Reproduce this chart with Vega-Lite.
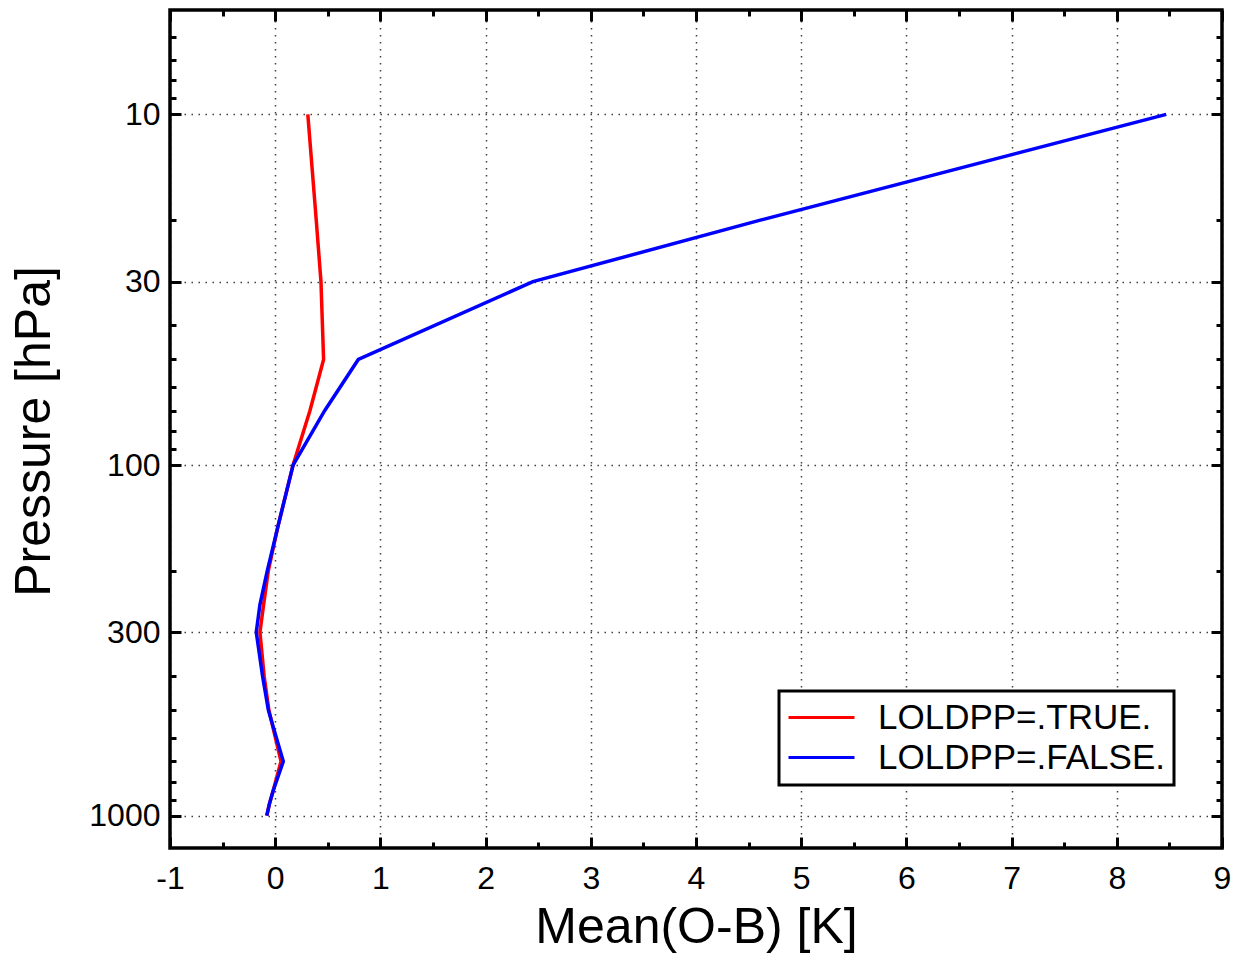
{
  "$schema": "https://vega.github.io/schema/vega-lite/v6.json",
  "width": 1052,
  "height": 838,
  "autosize": {"type": "none"},
  "padding": {"left": 170, "top": 10, "right": 16, "bottom": 105},
  "background": "white",
  "data": {
    "values": [
      {"run": "LOLDPP=.TRUE.", "p": 10, "v": 0.31},
      {"run": "LOLDPP=.TRUE.", "p": 20, "v": 0.39},
      {"run": "LOLDPP=.TRUE.", "p": 30, "v": 0.435},
      {"run": "LOLDPP=.TRUE.", "p": 50, "v": 0.46},
      {"run": "LOLDPP=.TRUE.", "p": 70, "v": 0.33},
      {"run": "LOLDPP=.TRUE.", "p": 100, "v": 0.17},
      {"run": "LOLDPP=.TRUE.", "p": 150, "v": 0.025},
      {"run": "LOLDPP=.TRUE.", "p": 200, "v": -0.065},
      {"run": "LOLDPP=.TRUE.", "p": 250, "v": -0.11},
      {"run": "LOLDPP=.TRUE.", "p": 300, "v": -0.145},
      {"run": "LOLDPP=.TRUE.", "p": 400, "v": -0.105},
      {"run": "LOLDPP=.TRUE.", "p": 500, "v": -0.06},
      {"run": "LOLDPP=.TRUE.", "p": 700, "v": 0.055},
      {"run": "LOLDPP=.TRUE.", "p": 850, "v": -0.02},
      {"run": "LOLDPP=.TRUE.", "p": 925, "v": -0.055},
      {"run": "LOLDPP=.TRUE.", "p": 1000, "v": -0.08},
      {"run": "LOLDPP=.FALSE.", "p": 10, "v": 8.47},
      {"run": "LOLDPP=.FALSE.", "p": 20, "v": 4.62},
      {"run": "LOLDPP=.FALSE.", "p": 30, "v": 2.45},
      {"run": "LOLDPP=.FALSE.", "p": 50, "v": 0.79},
      {"run": "LOLDPP=.FALSE.", "p": 70, "v": 0.47},
      {"run": "LOLDPP=.FALSE.", "p": 100, "v": 0.17},
      {"run": "LOLDPP=.FALSE.", "p": 150, "v": 0.025},
      {"run": "LOLDPP=.FALSE.", "p": 200, "v": -0.075},
      {"run": "LOLDPP=.FALSE.", "p": 250, "v": -0.145},
      {"run": "LOLDPP=.FALSE.", "p": 300, "v": -0.18},
      {"run": "LOLDPP=.FALSE.", "p": 400, "v": -0.12},
      {"run": "LOLDPP=.FALSE.", "p": 500, "v": -0.065},
      {"run": "LOLDPP=.FALSE.", "p": 700, "v": 0.077},
      {"run": "LOLDPP=.FALSE.", "p": 850, "v": -0.02},
      {"run": "LOLDPP=.FALSE.", "p": 925, "v": -0.055},
      {"run": "LOLDPP=.FALSE.", "p": 1000, "v": -0.08}
    ]
  },
  "layer": [
    {
      "mark": {"type": "line", "strokeWidth": 3.5},
      "encoding": {
        "x": {
          "field": "v", "type": "quantitative",
          "scale": {"domain": [-1, 9], "nice": false, "zero": false},
          "axis": {
            "orient": "bottom",
            "values": [-1, 0, 1, 2, 3, 4, 5, 6, 7, 8, 9],
            "labelExpr": "'' + datum.value",
            "labelFontSize": 32,
            "labelPadding": 15,
            "labelFlush": false,
            "labelOverlap": false,
            "ticks": false,
            "grid": true,
            "title": "Mean(O-B) [K]",
            "titleFontSize": 50,
            "titleX": 526,
            "titleY": 94,
            "titleAlign": "center",
            "titleBaseline": "alphabetic"
          }
        },
        "y": {
          "field": "p", "type": "quantitative",
          "scale": {"type": "log", "domain": [5.04, 1236], "reverse": true, "nice": false},
          "axis": {
            "orient": "left",
            "values": [10, 30, 100, 300, 1000],
            "labelExpr": "'' + datum.value",
            "labelFontSize": 32,
            "labelPadding": 10,
            "labelFlush": false,
            "labelOverlap": false,
            "ticks": false,
            "grid": true,
            "title": "Pressure [hPa]",
            "titleFontSize": 50,
            "titleAngle": 270,
            "titleX": -121,
            "titleY": 421,
            "titleAlign": "center",
            "titleBaseline": "alphabetic"
          }
        },
        "color": {
          "field": "run", "type": "nominal",
          "scale": {"domain": ["LOLDPP=.TRUE.", "LOLDPP=.FALSE."], "range": ["#ff0000", "#0000ff"]},
          "legend": {"title": null}
        },
        "order": {"field": "p", "type": "quantitative"}
      }
    },
    {
      "mark": {"type": "point", "opacity": 0},
      "encoding": {
        "x": {
          "field": "v", "type": "quantitative",
          "scale": {"domain": [-1, 9], "nice": false, "zero": false},
          "axis": {"orient": "bottom", "values": [-1, 0, 1, 2, 3, 4, 5, 6, 7, 8, 9], "labels": false, "grid": false, "title": null, "tickSize": -11}
        },
        "y": {
          "field": "p", "type": "quantitative",
          "scale": {"type": "log", "domain": [5.04, 1236], "reverse": true, "nice": false},
          "axis": {"orient": "left", "values": [10, 30, 100, 300, 1000], "labels": false, "grid": false, "title": null, "tickSize": -11}
        }
      }
    },
    {
      "mark": {"type": "point", "opacity": 0},
      "encoding": {
        "x": {
          "field": "v", "type": "quantitative",
          "scale": {"domain": [-1, 9], "nice": false, "zero": false},
          "axis": {"orient": "bottom", "values": [-0.5, 0.5, 1.5, 2.5, 3.5, 4.5, 5.5, 6.5, 7.5, 8.5], "labels": false, "grid": false, "title": null, "tickSize": -6}
        },
        "y": {
          "field": "p", "type": "quantitative",
          "scale": {"type": "log", "domain": [5.04, 1236], "reverse": true, "nice": false},
          "axis": {"orient": "left", "values": [6, 7, 8, 9, 20, 40, 50, 60, 70, 80, 90, 200, 400, 500, 600, 700, 800, 900], "labels": false, "grid": false, "title": null, "tickSize": -6}
        }
      }
    },
    {
      "mark": {"type": "point", "opacity": 0},
      "encoding": {
        "x": {
          "field": "v", "type": "quantitative",
          "scale": {"domain": [-1, 9], "nice": false, "zero": false},
          "axis": {"orient": "top", "values": [-1, 0, 1, 2, 3, 4, 5, 6, 7, 8, 9], "labels": false, "grid": false, "title": null, "tickSize": -11}
        },
        "y": {
          "field": "p", "type": "quantitative",
          "scale": {"type": "log", "domain": [5.04, 1236], "reverse": true, "nice": false},
          "axis": {"orient": "right", "values": [10, 30, 100, 300, 1000], "labels": false, "grid": false, "title": null, "tickSize": -11}
        }
      }
    },
    {
      "mark": {"type": "point", "opacity": 0},
      "encoding": {
        "x": {
          "field": "v", "type": "quantitative",
          "scale": {"domain": [-1, 9], "nice": false, "zero": false},
          "axis": {"orient": "top", "values": [-0.5, 0.5, 1.5, 2.5, 3.5, 4.5, 5.5, 6.5, 7.5, 8.5], "labels": false, "grid": false, "title": null, "tickSize": -6}
        },
        "y": {
          "field": "p", "type": "quantitative",
          "scale": {"type": "log", "domain": [5.04, 1236], "reverse": true, "nice": false},
          "axis": {"orient": "right", "values": [6, 7, 8, 9, 20, 40, 50, 60, 70, 80, 90, 200, 400, 500, 600, 700, 800, 900], "labels": false, "grid": false, "title": null, "tickSize": -6}
        }
      }
    }
  ],
  "resolve": {"axis": {"x": "independent", "y": "independent"}},
  "config": {
    "font": "Liberation Sans",
    "view": {"stroke": "#000000", "strokeWidth": 3.5},
    "axis": {
      "labelFont": "Liberation Sans",
      "titleFont": "Liberation Sans",
      "labelColor": "#000000",
      "titleColor": "#000000",
      "titleFontWeight": "normal",
      "tickColor": "#000000",
      "tickWidth": 3,
      "domain": false,
      "gridColor": "#000000",
      "gridDash": [1.5, 5.5],
      "gridWidth": 1.5,
      "gridOpacity": 0.75
    },
    "legend": {
      "orient": "none",
      "legendX": 609,
      "legendY": 681,
      "symbolType": "M-3,0H3",
      "symbolSize": 484,
      "symbolOffset": 16,
      "symbolStrokeWidth": 3,
      "labelFont": "Liberation Sans",
      "labelFontSize": 35,
      "labelColor": "#000000",
      "labelOffset": 39,
      "labelLimit": 0,
      "padding": 9,
      "rowPadding": 4,
      "strokeColor": "#000000",
      "strokeWidth": 3,
      "fillColor": "#ffffff"
    }
  }
}
